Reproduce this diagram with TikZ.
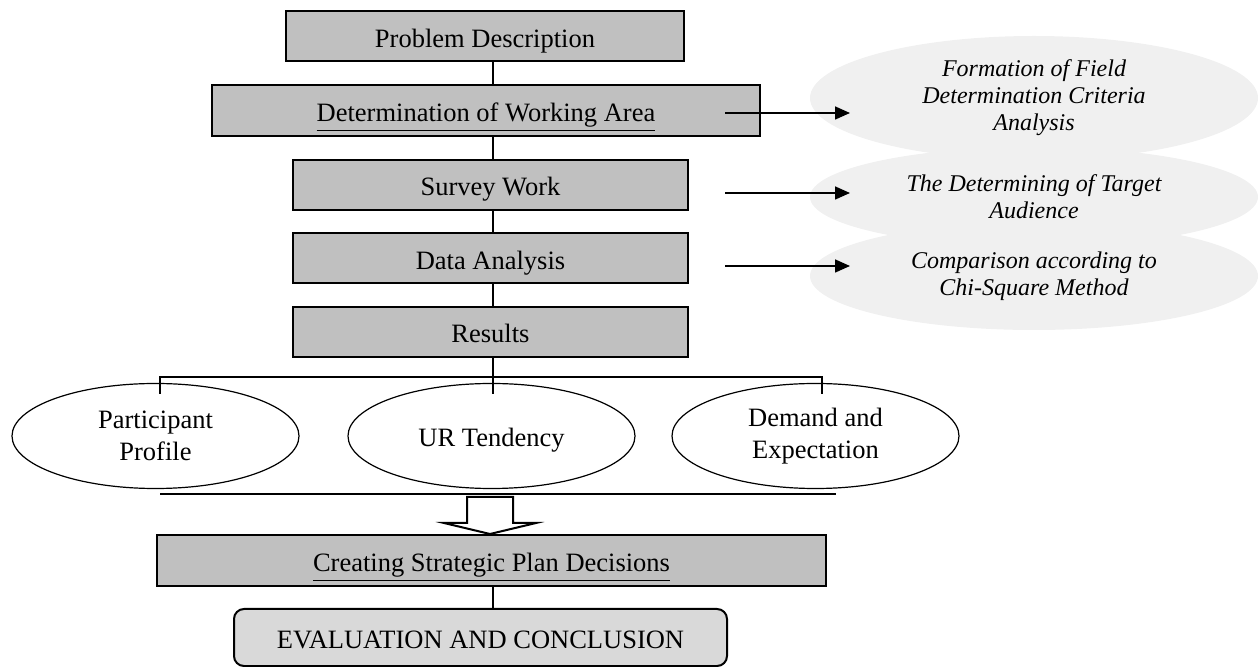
\documentclass[tikz,border=0pt]{standalone}
\usepackage{fontspec}
\setmainfont{Liberation Serif}
\usetikzlibrary{arrows.meta,calc,positioning}
\usetikzlibrary{shapes.geometric}
\definecolor{boxgray}{RGB}{192,192,192}
\definecolor{endgray}{RGB}{217,217,217}
\definecolor{cloudgray}{RGB}{240,240,240}

\begin{document}
\begin{tikzpicture}[x=0.5pt,y=-0.5pt,
stage/.style={draw,line width=1pt,fill=boxgray,inner sep=0pt,minimum height=25pt,
  text height=12pt,text depth=1pt,font=\fontsize{13.25}{16}\selectfont},
note/.style={ellipse,fill=cloudgray,inner sep=0pt,minimum width=224pt,align=center,
  font=\fontsize{12}{13.5}\selectfont\itshape},
part/.style={ellipse,draw,line width=0.6pt,inner sep=0pt,minimum width=143.5pt,
  minimum height=52.5pt,align=center,font=\fontsize{13.25}{16}\selectfont},
link/.style={line width=0.8pt},
tip/.style={line width=0.8pt,-{Triangle[length=7.5pt,width=6.5pt]}}]
\useasboundingbox (0,0) rectangle (1258,667);
\coordinate (spine) at (493,0);

% main steps
\node[stage,minimum width=199pt] (prob) at (485,36.5) {Problem Description};
\node[stage,minimum width=274pt,minimum height=25.5pt] (work) at (486,110.5) {\underline{Determination of Working Area}};
\node[stage,minimum width=197.5pt] (surv) at (490.5,185) {Survey Work};
\node[stage,minimum width=197.5pt] (data) at (490.5,258.5) {Data Analysis};
\node[stage,minimum width=197.5pt] (res) at (490.5,332) {Results};

\draw[link] (prob.south -| spine) -- (work.north -| spine);
\draw[link] (work.south -| spine) -- (surv.north -| spine);
\draw[link] (surv.south -| spine) -- (data.north -| spine);
\draw[link] (data.south -| spine) -- (res.north -| spine);

% side notes
\node[note,minimum height=62pt] (e1) at (1034,98) {Formation of Field\\Determination Criteria\\Analysis};
\node[note,minimum height=50pt] (e2) at (1034,197) {The Determining of Target\\Audience};
\node[note,minimum height=54pt] (e3) at (1034,276) {Comparison according to\\Chi-Square Method};

\coordinate (s1) at (725,113); \coordinate (t1) at (850,113);
\coordinate (s2) at (725,193); \coordinate (t2) at (850,193);
\coordinate (s3) at (725,266); \coordinate (t3) at (850,266);
\draw[tip] (s1) -- (t1);
\draw[tip] (s2) -- (t2);
\draw[tip] (s3) -- (t3);

% results
\node[part] (pp) at (155.5,436) {Participant\\Profile};
\node[part,text height=12pt,text depth=1pt] (ur) at (491.5,436) {UR Tendency};
\node[part] (de) at (815.5,436) {Demand and\\Expectation};

\coordinate (bl) at (160,394);
\coordinate (br) at (822,394);
\draw[link] (bl) -- ++(0,-17) -| (br);
\draw[link] (res.south -| spine) -- (spine |- bl);

\coordinate (ll) at (160,494);
\coordinate (lr) at (836,494);
\draw[line width=1pt] (ll) -- (lr);

% decisions
\node[stage,minimum width=334.5pt,minimum height=25.5pt] (plan) at (491.5,560.5) {\underline{Creating Strategic Plan Decisions}};
\draw[line width=1pt,fill=white] (490,534) -- (444,523) -- (467,523) -- (467,497)
  -- (513,497) -- (513,523) -- (536,523) -- cycle;

\node[stage,fill=endgray,rounded corners=5pt,minimum width=246.5pt,minimum height=28.5pt] (eval) at (480.5,637.5) {EVALUATION AND CONCLUSION};
\draw[link] (plan.south -| spine) -- (eval.north -| spine);
\end{tikzpicture}
\end{document}
